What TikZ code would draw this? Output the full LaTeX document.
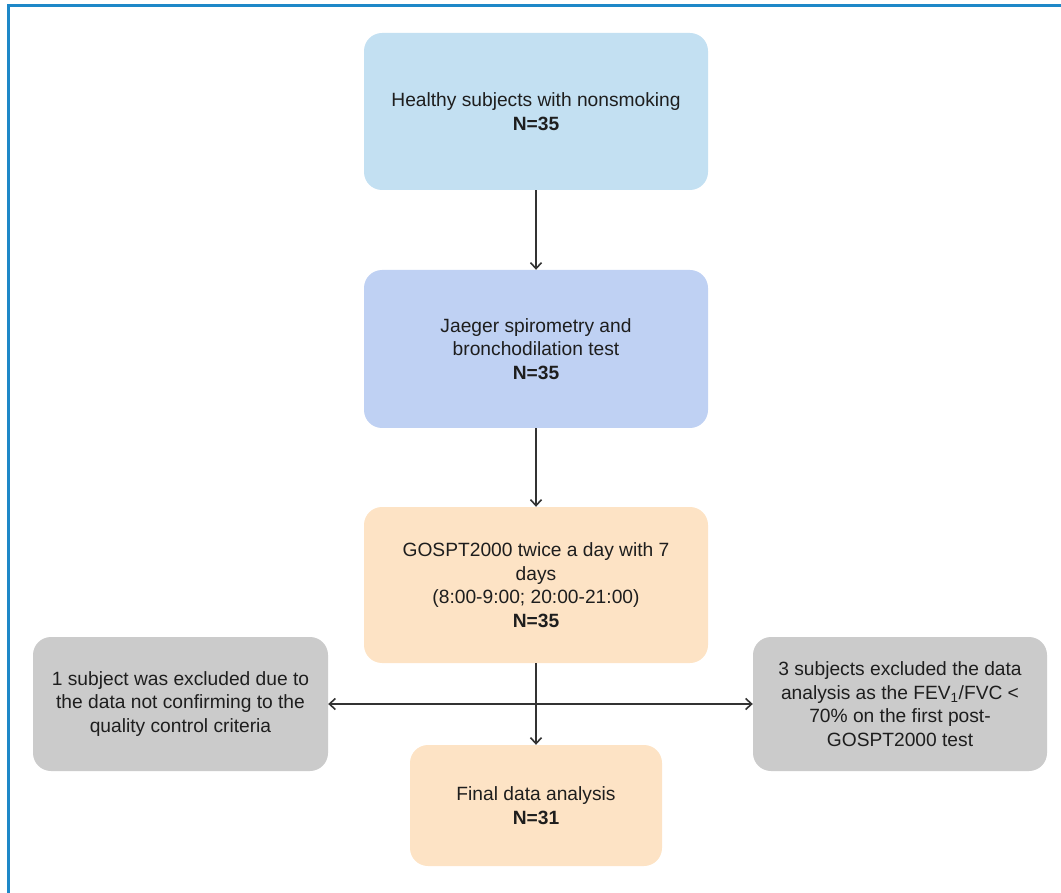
\documentclass[tikz,border=0pt]{standalone}
\usepackage{fontspec}
\setmainfont{Liberation Sans}
\usetikzlibrary{arrows.meta}
\definecolor{frameblue}{HTML}{1E88C8}
\definecolor{cblue}{HTML}{C3E0F2}
\definecolor{cviolet}{HTML}{BFD1F3}
\definecolor{cpeach}{HTML}{FDE3C5}
\definecolor{cgrey}{HTML}{CBCBCB}
\definecolor{ctext}{HTML}{1E1E1E}
\begin{document}
\begin{tikzpicture}[x=1pt,y=-1pt,
  box/.style={rounded corners=18pt, align=center, inner sep=0pt, text=ctext,
    font=\fontsize{19.2}{23.5}\selectfont},
  conn/.style={draw=black!80, line width=1.6pt, -{Straight Barb[length=6pt,width=11pt]}},
  dconn/.style={draw=black!80, line width=1.6pt, {Straight Barb[length=6pt,width=11pt]}-{Straight Barb[length=6pt,width=11pt]}}]
\useasboundingbox (0,0) rectangle (1061,893);
\draw[frameblue, line width=3pt] (8,893) -- (8,6) -- (1061,6);

\node[box, fill=cblue, minimum width=344pt, minimum height=157pt] (a) at (536,111.5)
  {Healthy subjects with nonsmoking\\\textbf{N=35}};
\node[box, fill=cviolet, minimum width=344pt, minimum height=158pt] (b) at (536,349)
  {Jaeger spirometry and\\bronchodilation test\\\textbf{N=35}};
\node[box, fill=cpeach, minimum width=344pt, minimum height=156pt] (c) at (536,585)
  {GOSPT2000 twice a day with 7\\days\\(8:00-9:00; 20:00-21:00)\\\textbf{N=35}};
\node[box, fill=cpeach, minimum width=252pt, minimum height=121pt] (d) at (536,805.5)
  {Final data analysis\\\textbf{N=31}};
\node[box, fill=cgrey, minimum width=295pt, minimum height=134pt] (l) at (180.5,704)
  {1 subject was excluded due to\\the data not confirming to the\\quality control criteria};
\node[box, fill=cgrey, minimum width=294pt, minimum height=134pt] (r) at (900,704)
  {3 subjects excluded the data\\analysis as the FEV\textsubscript{1}/FVC <\\70\% on the first post-\\GOSPT2000 test};

\draw[conn] (a) -- (b);
\draw[conn] (b) -- (c);
\draw[conn] (c) -- (d);
\draw[dconn] (l) -- (r);
\end{tikzpicture}
\end{document}
